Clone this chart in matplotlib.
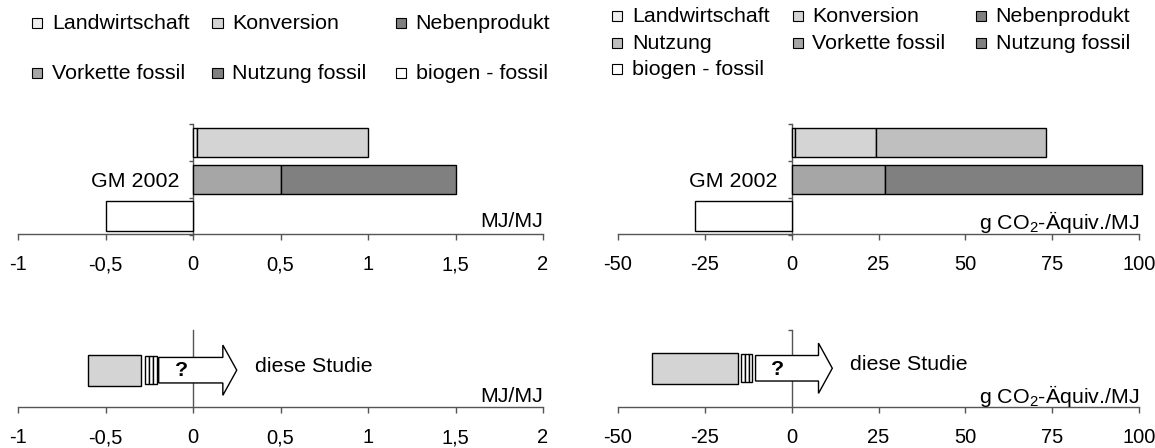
import matplotlib.pyplot as plt
from matplotlib.patches import Rectangle

plt.rcParams['font.family'] = ['Liberation Sans', 'DejaVu Sans']
plt.rcParams['mathtext.default'] = 'regular'

W, H = 1155, 448

# legend entries (reading order) and fill colours
legend_energy = ["Landwirtschaft", "Konversion", "Nebenprodukt",
                 "Vorkette fossil", "Nutzung fossil", "biogen - fossil"]
legend_ghg = ["Landwirtschaft", "Konversion", "Nebenprodukt",
              "Nutzung", "Vorkette fossil", "Nutzung fossil", "biogen - fossil"]
colors = {"Landwirtschaft": "#eeeeee", "Konversion": "#d4d4d4", "Nebenprodukt": "#808080",
          "Nutzung": "#bfbfbf", "Vorkette fossil": "#a6a6a6", "Nutzung fossil": "#808080",
          "biogen - fossil": "#ffffff"}

# GM 2002, energy (MJ/MJ)
energy_bio_parts = ["Landwirtschaft", "Konversion"]
energy_bio_vals = [0.02, 0.98]
energy_fossil_parts = ["Vorkette fossil", "Nutzung fossil"]
energy_fossil_vals = [0.5, 1.0]
energy_diff = -0.5

# GM 2002, greenhouse gas (g CO2-Aequiv./MJ)
ghg_bio_parts = ["Landwirtschaft", "Konversion", "Nutzung"]
ghg_bio_vals = [1.1, 23.3, 48.8]
ghg_fossil_parts = ["Vorkette fossil", "Nutzung fossil"]
ghg_fossil_vals = [27.0, 74.0]
ghg_diff = -27.8

# diese Studie: Konversion bar (start, end), Landwirtschaft segments (start, widths), open arrow (start, tip)
study_energy_konv = (-0.60, -0.30)
study_energy_landw = (-0.277, [0.023, 0.023, 0.023])
study_energy_arrow = (-0.196, 0.25)
study_ghg_konv = (-40.1, -15.5)
study_ghg_landw = (-14.5, [1.06, 1.06, 1.06])
study_ghg_arrow = (-10.4, 11.7)

energy_ticks = [-1, -0.5, 0, 0.5, 1, 1.5, 2]
ghg_ticks = [-50, -25, 0, 25, 50, 75, 100]
unit_energy = "MJ/MJ"
unit_ghg = "g CO$_2$-Äquiv./MJ"

AX_COL = '#555555'
FS = 15.4

fig = plt.figure(figsize=(W / 100, H / 100), dpi=100)


def px_axes(x0, y0, x1, y1):
    return fig.add_axes([x0 / W, 1 - y1 / H, (x1 - x0) / W, (y1 - y0) / H])


def style_axis(ax, ticks):
    ax.set_xlim(ticks[0], ticks[-1])
    for s in ['top', 'right']:
        ax.spines[s].set_visible(False)
    ax.spines['left'].set_position(('data', 0))
    for s in ['left', 'bottom']:
        ax.spines[s].set_color(AX_COL)
        ax.spines[s].set_linewidth(1.0)
    ax.set_xticks(ticks)
    ax.set_xticklabels([f"{t:g}".replace('.', ',') for t in ticks])
    ax.tick_params(axis='x', direction='out', length=4, width=1, color=AX_COL,
                   pad=11, labelsize=14.5)
    ax.tick_params(axis='y', direction='out', length=3, width=1, color=AX_COL)


def stacked(ax, y, parts, vals, h=0.8, start=0.0):
    left = start
    for p, v in zip(parts, vals):
        ax.barh(y, v, left=left, height=h, color=colors[p], edgecolor='black',
                linewidth=1.0, zorder=3, clip_on=False)
        left += v


def top_panel(ax, ticks, bio_parts, bio_vals, fos_parts, fos_vals, diff, unit):
    style_axis(ax, ticks)
    ax.set_ylim(-0.5, 2.5)
    ax.set_yticks([-0.5, 0.5, 1.5, 2.5])
    ax.set_yticklabels([])
    ax.set_yticks([0, 1, 2], minor=True)
    ax.set_yticklabels(["", "GM 2002", ""], minor=True)
    ax.tick_params(axis='y', which='minor', length=0, pad=10, labelsize=FS)
    stacked(ax, 2, bio_parts, bio_vals)
    stacked(ax, 1, fos_parts, fos_vals)
    stacked(ax, 0, ["biogen - fossil"], [diff])
    ax.text(1.0, 0.115, unit, transform=ax.transAxes, ha='right', va='center', fontsize=FS)


def bottom_panel(ax, ticks, konv, landw, arrow, yc, unit, top_tick):
    style_axis(ax, ticks)
    ax.set_ylim(0, 1)
    ax.set_yticks([1] if top_tick else [])
    ax.set_yticklabels([])
    span = ticks[-1] - ticks[0]
    ax.barh(yc, konv[1] - konv[0], left=konv[0], height=0.40, color=colors["Konversion"],
            edgecolor='black', linewidth=1.0, zorder=3)
    n = len(landw[1])
    stacked(ax, yc, ["biogen - fossil"] * n, landw[1], h=0.36, start=landw[0])
    x0, tip = arrow
    hs = tip - 0.0265 * span
    bh, hh = 0.165, 0.325
    xs = [x0, hs, hs, tip, hs, hs, x0]
    ys = [yc - bh, yc - bh, yc - hh, yc, yc + hh, yc + bh, yc + bh]
    ax.fill(xs, ys, facecolor='white', edgecolor='black', linewidth=1.0, zorder=3)
    ax.text(x0 + 0.35 * (hs - x0), yc - 0.01, "?", ha='center', va='center',
            fontsize=FS, fontweight='bold', zorder=4)
    ax.annotate("diese Studie", xy=(tip, yc + 0.045), xytext=(13, 0),
                textcoords='offset points', ha='left', va='center', fontsize=FS)
    ax.text(1.0, 0.14, unit, transform=ax.transAxes, ha='right', va='center', fontsize=FS)


def draw_legend(labels, text_x, row_y):
    ncol = len(text_x)
    for i, lab in enumerate(labels):
        x = text_x[i % ncol]
        y = row_y[i // ncol]
        fig.add_artist(Rectangle(((x - 20) / W, 1 - (y + 5) / H), 10 / W, 10 / H,
                                 transform=fig.transFigure, facecolor=colors[lab],
                                 edgecolor='black', linewidth=0.8))
        fig.text(x / W, 1 - y / H, lab, ha='left', va='center', fontsize=FS)


ax_e_top = px_axes(18, 124, 543, 234.5)
ax_g_top = px_axes(618, 124, 1139, 234.5)
ax_e_bot = px_axes(18, 330, 543, 407.3)
ax_g_bot = px_axes(618, 330, 1139, 407.3)

top_panel(ax_e_top, energy_ticks, energy_bio_parts, energy_bio_vals,
          energy_fossil_parts, energy_fossil_vals, energy_diff, unit_energy)
top_panel(ax_g_top, ghg_ticks, ghg_bio_parts, ghg_bio_vals,
          ghg_fossil_parts, ghg_fossil_vals, ghg_diff, unit_ghg)
bottom_panel(ax_e_bot, energy_ticks, study_energy_konv, study_energy_landw,
             study_energy_arrow, 0.48, unit_energy, False)
bottom_panel(ax_g_bot, ghg_ticks, study_ghg_konv, study_ghg_landw,
             study_ghg_arrow, 0.505, unit_ghg, True)

draw_legend(legend_energy, [52, 232.5, 415.5], [23.3, 73.3])
draw_legend(legend_ghg, [632, 812.5, 995.5], [16, 43.3, 69.3])

fig.savefig('out.png', dpi=100)
